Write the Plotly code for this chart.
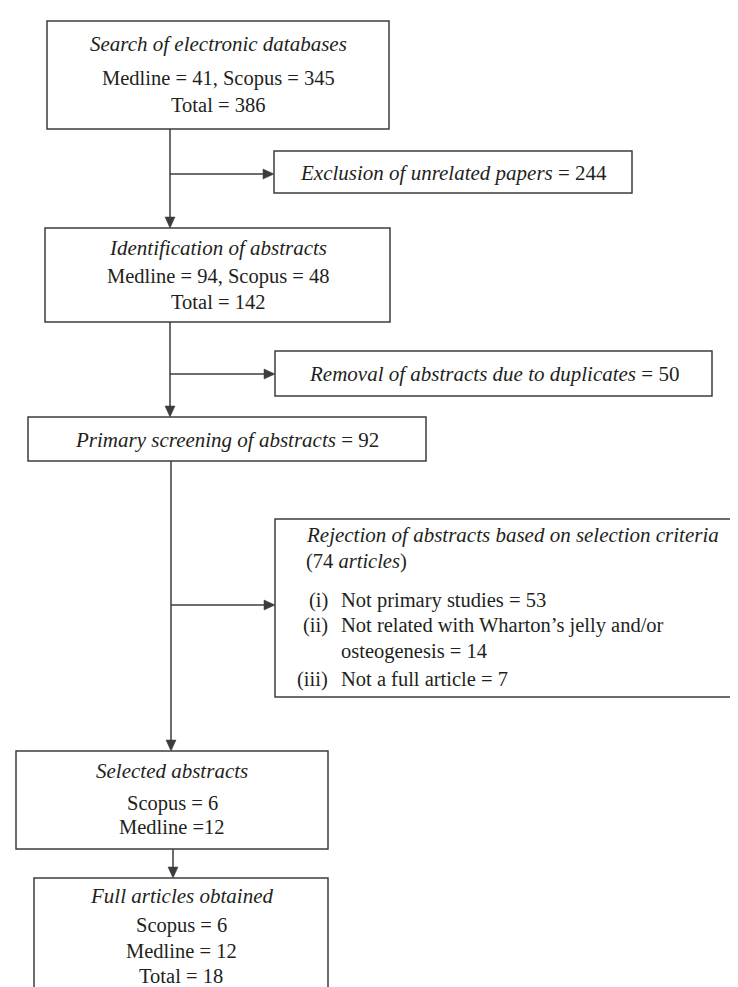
import plotly.graph_objects as go

# ---------------- data (counts) ----------------
search_sources = ["Medline", "Scopus"]
search_counts = [41, 345]
search_total = 386
excluded_unrelated = 244
ident_sources = ["Medline", "Scopus"]
ident_counts = [94, 48]
ident_total = 142
duplicates_removed = 50
primary_screened = 92
rejected_total = 74
rejection_labels = ["(i)", "(ii)", "(iii)"]
rejection_reasons = ["Not primary studies",
                     "Not related with Wharton’s jelly and/or osteogenesis",
                     "Not a full article"]
rejection_counts = [53, 14, 7]
selected_sources = ["Scopus", "Medline"]
selected_counts = [6, 12]
full_sources = ["Scopus", "Medline"]
full_counts = [6, 12]
full_total = 18

# ---------------- layout geometry (pixel space, y downward) ----------------
W, H = 738, 987
FONT = "Liberation Serif"
FS = 20.5
LINE = "#3c3c3c"
TXT = "#231f20"
LW = 1.5

boxes = {
    "search":   (39, 13, 381, 121),
    "exclude":  (266, 143, 624, 185),
    "ident":    (37, 220, 382, 314),
    "dup":      (267, 343, 704, 388),
    "primary":  (20, 409, 418, 453),
    "reject":   (267, 511, 760, 689),
    "selected": (8, 743, 320, 841),
    "full":     (26, 870, 320, 1010),
}

shapes = []
for (x0, y0, x1, y1) in boxes.values():
    shapes.append(dict(type="rect", x0=x0, y0=y0, x1=x1, y1=y1,
                       line=dict(color=LINE, width=LW), fillcolor="white", layer="below"))


def vline(x, y0, y1, head=True):
    tip = y1
    end = y1 - 10 if head else y1
    shapes.append(dict(type="line", x0=x, y0=y0, x1=x, y1=end, line=dict(color=LINE, width=LW)))
    if head:
        shapes.append(dict(type="path", path=f"M {x-5},{tip-11} L {x+5},{tip-11} L {x},{tip} Z",
                           fillcolor=LINE, line=dict(color=LINE, width=0.5)))


def hline(y, x0, x1):
    shapes.append(dict(type="line", x0=x0, y0=y, x1=x1 - 10, y1=y, line=dict(color=LINE, width=LW)))
    shapes.append(dict(type="path", path=f"M {x1-11},{y-5} L {x1-11},{y+5} L {x1},{y} Z",
                       fillcolor=LINE, line=dict(color=LINE, width=0.5)))


vline(162, 121, 220)
hline(166, 162, 266)
vline(162, 314, 409)
hline(366, 162, 267)
vline(163, 453, 743)
hline(597, 163, 267)
vline(165, 841, 870)

annotations = []


def txt(x, y, s, anchor="center", size=FS):
    annotations.append(dict(x=x, y=y, text=s, showarrow=False, xanchor=anchor, yanchor="middle",
                            xref="x", yref="y", font=dict(family=FONT, size=size, color=TXT)))


# box 1
txt(210, 36, "<i>Search of electronic databases</i>", size=21)
txt(210, 70, f"{search_sources[0]} = {search_counts[0]}, {search_sources[1]} = {search_counts[1]}")
txt(210, 97, f"Total = {search_total}")
# exclusion
txt(445, 165, f"<i>Exclusion of unrelated papers</i> = {excluded_unrelated}", size=21)
# identification
txt(209.5, 240, "<i>Identification of abstracts</i>", size=21)
txt(209.5, 268, f"{ident_sources[0]} = {ident_counts[0]}, {ident_sources[1]} = {ident_counts[1]}")
txt(209.5, 294, f"Total = {ident_total}")
# duplicates
txt(485.5, 366, f"<i>Removal of abstracts due to duplicates</i> = {duplicates_removed}", size=21)
# primary
txt(219, 432, f"<i>Primary screening of abstracts</i> = {primary_screened}", size=21)
# rejection
txt(296, 527, "<i>Rejection of abstracts based on selection criteria</i>", anchor="left", size=21)
txt(296, 553, f"({rejected_total} <i>articles</i>)", anchor="left")
rej_y = [592, 617, 671]
for lab, reason, cnt, yy in zip(rejection_labels, rejection_reasons, rejection_counts, rej_y):
    txt(322, yy, lab, anchor="right")
    full = f"{reason} = {cnt}"
    if "and/or " in full:
        first, second = full.split("and/or ", 1)
        txt(331, yy, first + "and/or", anchor="left")
        txt(331, yy + 26, second, anchor="left")
    else:
        txt(331, yy, full, anchor="left")
# selected
txt(164, 763, "<i>Selected abstracts</i>", size=21)
txt(164, 795, f"{selected_sources[0]} = {selected_counts[0]}")
txt(164, 819, f"{selected_sources[1]} ={selected_counts[1]}")
# full
txt(173, 888, "<i>Full articles obtained</i>", size=21)
txt(173, 917, f"{full_sources[0]} = {full_counts[0]}")
txt(173, 943, f"{full_sources[1]} = {full_counts[1]}")
txt(173, 968, f"Total = {full_total}")

fig = go.Figure()
fig.update_layout(
    width=W, height=H,
    margin=dict(l=0, r=0, t=0, b=0),
    paper_bgcolor="white", plot_bgcolor="white",
    xaxis=dict(range=[0, W], visible=False, fixedrange=True),
    yaxis=dict(range=[H, 0], visible=False, fixedrange=True),
    shapes=shapes, annotations=annotations, showlegend=False,
)
fig.write_html("out.html")
